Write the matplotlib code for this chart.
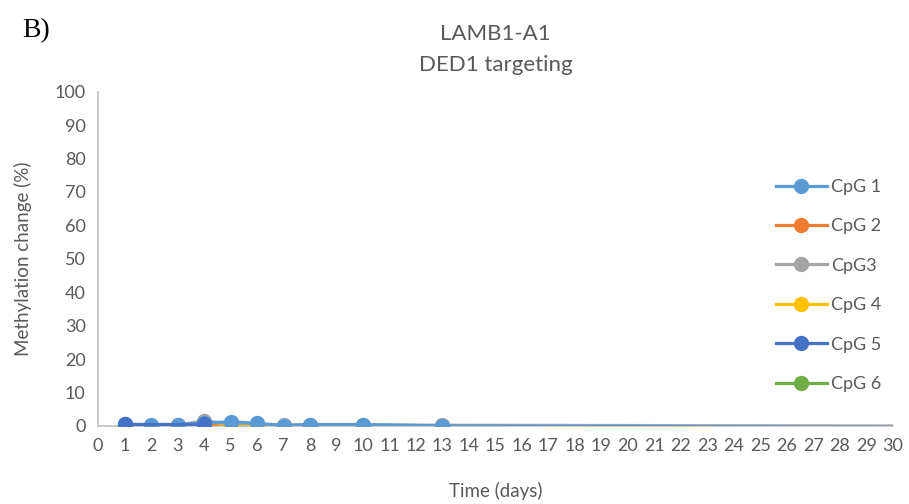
import numpy as np
import matplotlib
matplotlib.use('Agg')
import matplotlib.pyplot as plt

plt.rcParams['font.family'] = ['Lato', 'DejaVu Sans']

# data (last point lies past the axis end, clipped at 30)
days = [1, 2, 3, 4, 5, 6, 7, 8, 10, 13, 35]
cpg1 = [0.5, 0.3, 0.4, 0.9, 1.2, 0.8, 0.1, 0.4, 0.4, 0.0, -0.6]
cpg2 = [0.0, 0.0, 0.0, 0.3, -0.2, -0.2, -0.3, -0.3, -0.3, -0.4, -0.6]
cpg3 = [-0.3, 0.0, 0.2, 1.5, 0.5, 0.3, 0.3, 0.3, 0.3, 0.2, -0.1]
cpg4 = [-0.5, -0.5, -0.3, -0.5, -0.2, -0.3, -0.4, -0.4, -0.5, -0.5, -0.7]
days5 = [1, 4]
cpg5 = [0.6, 0.6]
cpg6 = [np.nan, np.nan]

fig = plt.figure(figsize=(9.09, 5.04), dpi=100)
ax = fig.add_axes([0.108, 0.155, 0.874, 0.663])

lw = 2.3
ms = 10
ax.plot(days, cpg2, color='#ED7D31', lw=lw, marker='o', ms=ms, label='CpG 2', zorder=3)
ax.plot(days, cpg3, color='#A5A5A5', lw=lw, marker='o', ms=ms, label='CpG3', zorder=3)
ax.plot(days, cpg4, color='#FFC000', lw=lw, marker='o', ms=ms, label='CpG 4', zorder=3)
ax.plot(days, cpg1, color='#5B9BD5', lw=lw, marker='o', ms=ms, label='CpG 1', zorder=4)
ax.plot(days5, cpg5, color='#4472C4', lw=lw, marker='o', ms=ms, label='CpG 5', zorder=5)
ax.plot(days5, cpg6, color='#70AD47', lw=lw, marker='o', ms=ms, label='CpG 6', zorder=5)

ax.set_xlim(0, 30)
ax.set_ylim(0, 100)
ax.set_xticks(range(0, 31))
ax.set_yticks(range(0, 101, 10))
ax.tick_params(length=0, labelsize=13, labelcolor='#595959', pad=9)
for s in ['top', 'right']:
    ax.spines[s].set_visible(False)
ax.spines['left'].set_color('#BFBFBF')
ax.spines['bottom'].set_color('#BFBFBF')
ax.spines['left'].set_linewidth(1.2)
ax.spines['bottom'].set_linewidth(1.2)

ax.set_xlabel('Time (days)', fontsize=13.5, color='#595959', labelpad=20)
ax.set_ylabel('Methylation change (%)', fontsize=13.5, color='#595959', labelpad=16)
ax.set_title('LAMB1-A1\nDED1 targeting', fontsize=16, color='#595959', pad=15, linespacing=1.7)

h, l = ax.get_legend_handles_labels()
order = [l.index(n) for n in ['CpG 1', 'CpG 2', 'CpG3', 'CpG 4', 'CpG 5', 'CpG 6']]
ax.legend([h[i] for i in order], [l[i] for i in order], loc='center left',
          bbox_to_anchor=(0.833, 0.42), frameon=False, fontsize=13,
          labelcolor='#595959', handlelength=2.8, handletextpad=0.25, labelspacing=1.3)

fig.text(0.024, 0.927, 'B)', fontsize=20, family='Liberation Serif', color='black', va='baseline')

fig.savefig('out.png', dpi=100)
